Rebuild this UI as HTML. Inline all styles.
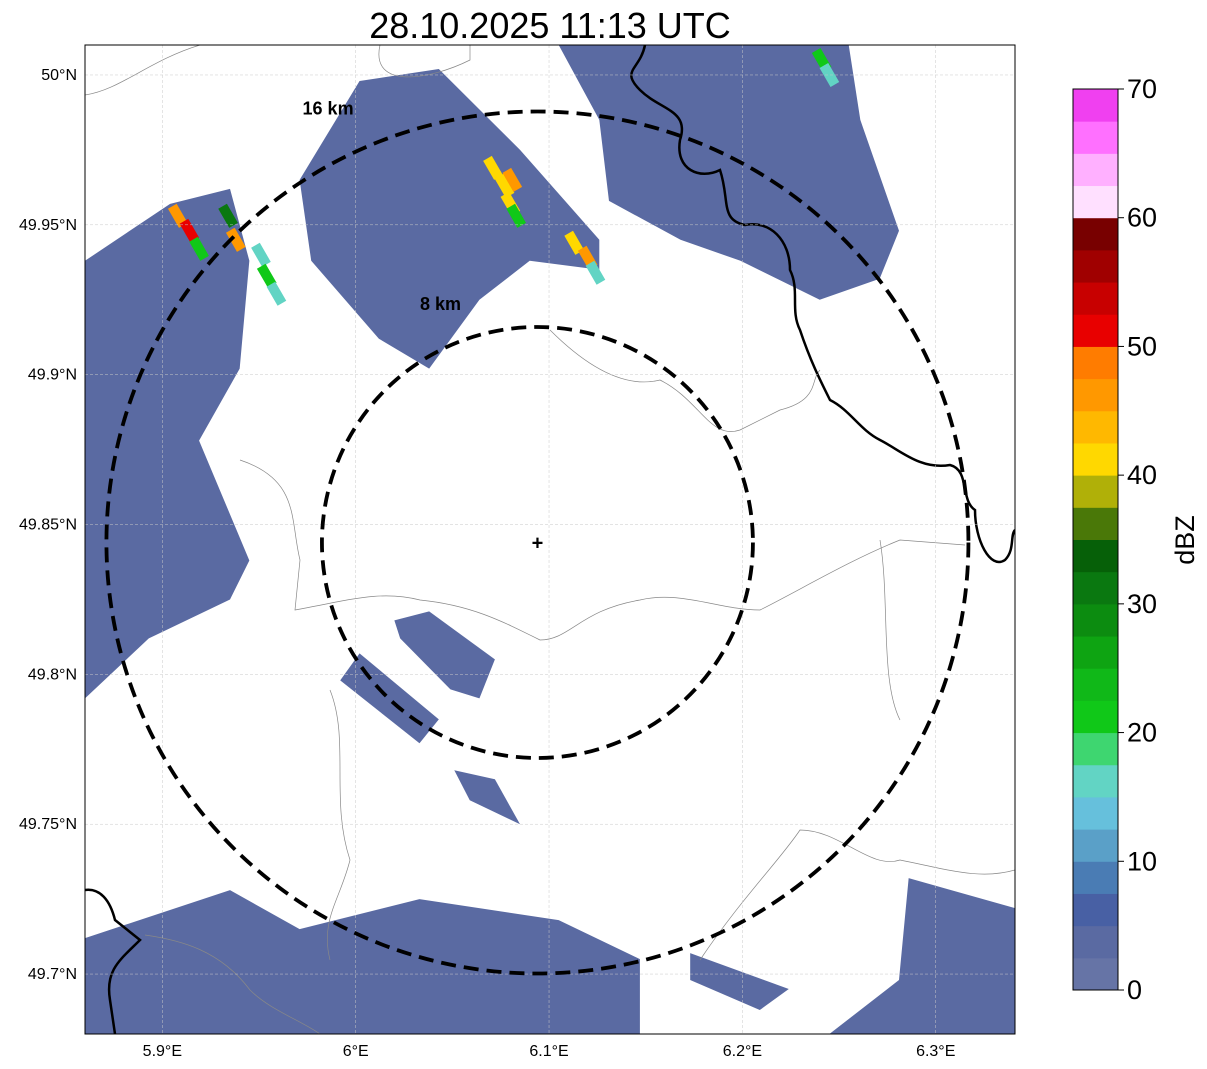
<!DOCTYPE html>
<html><head><meta charset="utf-8">
<style>
body{margin:0;background:#fff;width:1207px;height:1069px;overflow:hidden;font-family:"Liberation Sans",sans-serif;}
svg{display:block}
</style></head>
<body>
<svg id="chart" width="1207" height="1069" xmlns="http://www.w3.org/2000/svg">
</svg>
<script>
// ---- data ----
const lonTicks=[5.9,6.0,6.1,6.2,6.3];
const lonLabels=["5.9°E","6°E","6.1°E","6.2°E","6.3°E"];
const latTicks=[50.0,49.95,49.9,49.85,49.8,49.75,49.7];
const latLabels=["50°N","49.95°N","49.9°N","49.85°N","49.8°N","49.75°N","49.7°N"];
const cbTicks=[0,10,20,30,40,50,60,70];
const cbColors=["#6674a6","#5a6aa2","#4860a4","#4a7cb4","#5aa0c8","#66c0dc","#62d4c4","#3ed670","#10c818","#10b818","#0ea412","#0c8c10","#0a7810","#066008","#4a7808","#b0b008","#ffd800","#ffb800","#ff9800","#ff7c00","#e80000","#c80000","#a00000","#780000","#ffe0ff","#ffb0ff","#ff70ff","#f040f0"];
const radar=[6.094,49.844];
const rings=[8,16];
// echo areas: polygons [lon,lat]..., with dBZ value
const echoPolys=[
 [[5.860,49.938],[5.904,49.957],[5.935,49.962],[5.945,49.938],[5.940,49.902],[5.919,49.878],[5.945,49.838],[5.935,49.825],[5.893,49.812],[5.860,49.792]],
 [[5.971,49.965],[6.002,49.998],[6.043,50.002],[6.085,49.975],[6.126,49.945],[6.126,49.935],[6.090,49.938],[6.064,49.925],[6.038,49.902],[6.012,49.912],[5.977,49.938]],
 [[6.105,50.010],[6.255,50.010],[6.261,49.985],[6.281,49.948],[6.271,49.932],[6.240,49.925],[6.199,49.938],[6.168,49.945],[6.131,49.958],[6.126,49.985]],
 [[6.020,49.818],[6.038,49.821],[6.072,49.805],[6.064,49.792],[6.049,49.795],[6.023,49.812]],
 [[6.002,49.807],[6.043,49.785],[6.033,49.777],[5.992,49.798]],
 [[6.051,49.768],[6.072,49.765],[6.085,49.750],[6.059,49.758]],
 [[5.860,49.712],[5.935,49.728],[5.971,49.715],[6.033,49.725],[6.105,49.718],[6.147,49.705],[6.147,49.680],[5.860,49.680]],
 [[6.286,49.732],[6.341,49.722],[6.341,49.680],[6.245,49.680],[6.281,49.698]],
 [[6.173,49.707],[6.224,49.695],[6.209,49.688],[6.173,49.698]]
];
const echoDbz=[3,3,3,3,3,3,4,3,3];
const cellLon=[5.908,5.914,5.919,5.934,5.938,5.951,5.954,5.959,6.071,6.077,6.081,6.080,6.083,6.113,6.120,6.124,6.241,6.245];
const cellLat=[49.953,49.948,49.942,49.953,49.945,49.940,49.933,49.927,49.969,49.963,49.965,49.957,49.953,49.944,49.939,49.934,50.005,50.000];
const cellDbz=[45,52,20,32,47,15,20,15,40,42,47,40,22,40,47,15,20,17];

// ---- scales ----
const X0=85,X1=1015,Y0=45,Y1=1034;
const lonMin=5.860,lonMax=6.341,latMin=49.680,latMax=50.010;
const sx=l=>X0+(l-lonMin)/(lonMax-lonMin)*(X1-X0);
const sy=l=>Y1-(l-latMin)/(latMax-latMin)*(Y1-Y0);
const kmPx=431/16;
const CB_TOP=89,CB_BOT=990;
const cy=v=>CB_BOT-v/70*(CB_BOT-CB_TOP);
const colorFor=v=>cbColors[Math.max(0,Math.min(27,Math.floor(v/2.5)))];

const NS="http://www.w3.org/2000/svg";
const svg=document.getElementById('chart');
function mk(tag,attrs,parent){const e=document.createElementNS(NS,tag);for(const k in attrs)e.setAttribute(k,attrs[k]);(parent||svg).appendChild(e);return e;}

const defs=mk('defs',{});
const cp=mk('clipPath',{id:'mapclip'},defs);
mk('rect',{x:X0,y:Y0,width:X1-X0,height:Y1-Y0},cp);
const map=mk('g',{'clip-path':'url(#mapclip)'});



echoPolys.forEach((p,i)=>{
 const e=mk('polygon',{points:p.map(q=>sx(q[0])+','+sy(q[1])).join(' '),fill:colorFor(echoDbz[i])},map);
 
 
});
cellLon.forEach((l,i)=>{
 const x=sx(l),y=sy(cellLat[i]);
 const r=mk('rect',{x:x-5,y:y-11,width:10,height:22,fill:colorFor(cellDbz[i]),transform:`rotate(-30 ${x} ${y})`},map);
 
 
});

const thin=["M85,95 C120,90 150,60 200,45","M380,45 C370,90 430,80 470,60 L470,45","M240,460 C300,480 290,520 300,560 L295,610 C350,600 380,590 420,600 C470,605 500,620 540,640 C570,640 580,610 640,600 C680,590 720,610 760,610 C800,590 850,560 900,540 L965,545",
"M550,330 C580,360 620,390 660,380 C700,400 710,440 740,430 L780,410 C820,400 810,380 820,370",
"M330,690 C350,740 330,800 350,860 C340,900 320,920 330,960",
"M145,935 C180,940 220,950 250,990 C270,1010 300,1020 320,1034",
"M700,960 C740,900 780,860 800,830 C840,830 870,870 900,860 C950,870 980,880 1015,870",
"M880,540 C890,600 880,680 900,720"];
thin.forEach(d=>{const p=mk('path',{d:d,fill:'none',stroke:'#888',"stroke-width":0.7},map);});
const thick=["M645,45 C640,70 620,70 640,90 C660,110 690,110 680,140 C675,170 700,180 720,170 C730,200 720,220 745,225 C770,220 790,240 790,270 C800,290 790,310 800,330 C810,360 820,380 830,400 C850,410 860,430 880,440 C900,450 920,470 950,465 C970,470 960,500 975,510 C975,540 990,570 1005,560 C1015,550 1010,535 1015,530",
"M85,890 C100,888 110,900 115,920 L140,940 C120,960 105,970 110,1000 L115,1034"];
thick.forEach(d=>{const p=mk('path',{d:d,fill:'none',stroke:'#000',"stroke-width":2.5},map);});

lonTicks.forEach(l=>{const g=mk('line',{x1:sx(l),x2:sx(l),y1:Y0,y2:Y1,stroke:'#c8c8c8',"stroke-width":0.5,"stroke-dasharray":"3,2"});});
latTicks.forEach(l=>{const g=mk('line',{x1:X0,x2:X1,y1:sy(l),y2:sy(l),stroke:'#c8c8c8',"stroke-width":0.5,"stroke-dasharray":"3,2"});});

const cxp=sx(radar[0]),cyp=sy(radar[1]);
rings.forEach(km=>{
 const r=km*kmPx;
 const c=mk('circle',{cx:cxp,cy:cyp,r:r,fill:'none',stroke:'#000',"stroke-width":3.8,"stroke-dasharray":"15,8"});
 
 
 const t=mk('text',{x:cxp-r*0.545,y:cyp-r+(km>10?3:-17),"font-size":18,"font-weight":"bold"});
 t.textContent=km+' km';
 
 
});
const cr=mk('text',{x:cxp,y:cyp+7,"text-anchor":"middle","font-size":20,"font-weight":"bold"});cr.textContent='+';


const fr=mk('rect',{x:X0,y:Y0,width:X1-X0,height:Y1-Y0,fill:'none',stroke:'#000',"stroke-width":1});


lonTicks.forEach((l,i)=>{const t=mk('text',{x:sx(l),y:1056,"text-anchor":"middle","font-size":16});t.textContent=lonLabels[i];});
latTicks.forEach((l,i)=>{const t=mk('text',{x:77,y:sy(l)+5,"text-anchor":"end","font-size":16});t.textContent=latLabels[i];});

const ti=mk('text',{x:550,y:38,"text-anchor":"middle","font-size":36});ti.textContent='28.10.2025 11:13 UTC';


const cb=mk('g',{});
cbColors.forEach((c,i)=>{const r=mk('rect',{x:1073,y:cy((i+1)*2.5),width:45,height:cy(i*2.5)-cy((i+1)*2.5)+0.5,fill:c},cb);});
mk('rect',{x:1073,y:CB_TOP,width:45,height:CB_BOT-CB_TOP,fill:'none',stroke:'#000',"stroke-width":1},cb);
cbTicks.forEach(v=>{mk('line',{x1:1118,x2:1124,y1:cy(v),y2:cy(v),stroke:'#000'},cb);const t=mk('text',{x:1127,y:cy(v)+9,"font-size":27},cb);t.textContent=v;});
const lab=mk('text',{x:1194,y:540,"text-anchor":"middle","font-size":27,transform:'rotate(-90 1194 540)'});lab.textContent='dBZ';

</script>
</body></html>
